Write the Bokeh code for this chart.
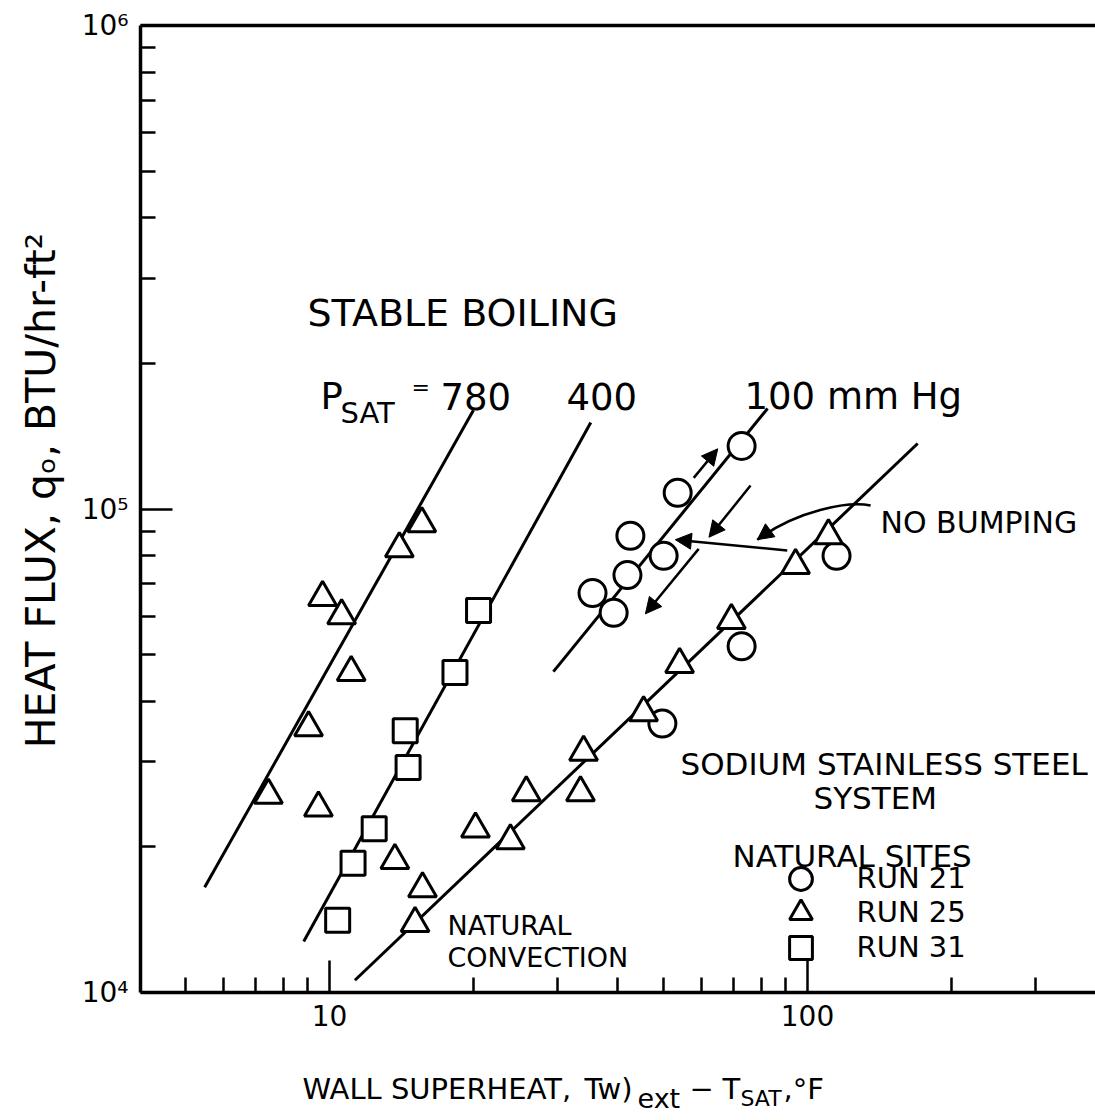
import math
from bokeh.plotting import figure
from bokeh.models import (LogAxis, FixedTicker, Label, Arrow, NormalHead,
                          Legend, LegendItem)
from bokeh.embed import file_html
from bokeh.resources import INLINE

FONT = "DejaVu Sans"

# ---------------- data ----------------
# wall superheat (deg F) and heat flux (BTU/hr-ft2)
run21_dT = [72.8, 53.5, 42.6, 50.0, 42.0, 35.5, 39.3, 115.0, 72.8, 49.7]
run21_q = [1.35e5, 1.08e5, 8.8e4, 8.0e4, 7.3e4, 6.7e4, 6.1e4, 8.0e4, 5.2e4, 3.6e4]

run25_dT = [15.6, 14.0, 9.67, 10.6, 11.1, 9.04, 7.45, 9.48, 13.7, 15.65, 15.1,
            20.2, 23.9, 25.8, 34.0, 33.5, 45.4, 54.0, 69.3, 94.4, 110.6]
run25_q = [9.33e4, 8.28e4, 6.56e4, 6.02e4, 4.59e4, 3.53e4, 2.56e4, 2.41e4, 1.875e4,
           1.64e4, 1.389e4, 2.18e4, 2.06e4, 2.59e4, 3.14e4, 2.59e4, 3.79e4, 4.77e4,
           5.88e4, 7.64e4, 8.81e4]

run31_dT = [20.5, 18.3, 14.4, 14.6, 12.4, 11.2, 10.4]
run31_q = [6.17e4, 4.59e4, 3.48e4, 2.92e4, 2.18e4, 1.85e4, 1.41e4]

# correlation lines (end points)
p780_dT = [5.48, 20.0]
p780_q = [1.65e4, 1.60e5]
p400_dT = [8.83, 35.2]
p400_q = [1.275e4, 1.51e5]
p100_dT = [29.4, 82.5]
p100_q = [4.61e4, 1.614e5]
natconv_dT = [11.3, 170.0]
natconv_q = [1.06e4, 1.366e5]

# arrows: (x_start, y_start, x_end, y_end)
arrows = [
    (57.8, 1.160e5, 64.9, 1.332e5),
    (76.0, 1.118e5, 62.2, 8.74e4),
    (59.2, 8.27e4, 45.8, 6.07e4),
    (90.7, 8.21e4, 52.9, 8.64e4),
]
# curved arrow from "NO BUMPING": start, control 0, control 1, end
curve = [(135.5, 1.017e5), (121.1, 1.038e5), (95.2, 9.93e4), (78.5, 8.64e4)]

x_major = [10, 100]
x_minor = [5, 6, 7, 8, 9, 20, 30, 40, 50, 60, 70, 80, 90, 200, 300]
y_major = [1e4, 1e5, 1e6]
y_minor = [2e4, 3e4, 4e4, 5e4, 6e4, 7e4, 8e4, 9e4,
           2e5, 3e5, 4e5, 5e5, 6e5, 7e5, 8e5, 9e5]
x_tick_labels = {10.0: "10", 100.0: "100"}
y_tick_labels = {10000.0: "10\u2074", 100000.0: "10\u2075", 1000000.0: "10\u2076"}

# ---------------- page geometry ----------------
W, H = 1095, 1120
X_LO = 4.023                 # left end of the x axis
PX_DEC_X, PX_DEC_Y = 478.0, 483.5
AX_L, AX_B = 140, 992        # pixel position of the axes corner


def ax(sx):
    return 10 ** (math.log10(X_LO) + (sx - AX_L) / PX_DEC_X)


def ay(sy):
    return 10 ** (4 + (AX_B - sy) / PX_DEC_Y)


X_HI = ax(W)
Y_LO, Y_HI = 1e4, 1e6

p = figure(width=W, height=H, x_axis_type="log", y_axis_type="log",
           x_range=(ax(0), ax(W)), y_range=(ay(H), ay(0)),
           output_backend="svg", toolbar_location=None,
           min_border_left=0, min_border_right=0, min_border_top=0,
           min_border_bottom=0)
p.outline_line_color = None
p.grid.visible = False
p.background_fill_color = "white"
p.border_fill_color = "white"

for axis, major, minor, labels in ((p.xaxis[0], x_major, x_minor, x_tick_labels),
                                   (p.yaxis[0], y_major, y_minor, y_tick_labels)):
    axis.ticker = FixedTicker(ticks=major, minor_ticks=minor)
    axis.major_label_overrides = labels
    axis.axis_line_width = 3.5
    axis.axis_line_color = "black"
    axis.major_tick_in = 32
    axis.major_tick_out = 0
    axis.minor_tick_in = 15
    axis.minor_tick_out = 0
    axis.major_tick_line_width = 2.5
    axis.minor_tick_line_width = 2.5
    axis.major_tick_line_color = "black"
    axis.minor_tick_line_color = "black"
    axis.major_label_text_font = FONT
    axis.major_label_text_font_size = "28px"
    axis.major_label_text_color = "black"

p.xaxis[0].fixed_location = Y_LO
p.xaxis[0].bounds = (X_LO, X_HI)
p.xaxis[0].major_label_standoff = 12
p.yaxis[0].fixed_location = X_LO
p.yaxis[0].bounds = (Y_LO, Y_HI)
p.yaxis[0].major_label_standoff = 12

top = LogAxis(ticker=FixedTicker(ticks=[]), axis_line_width=3.5,
              fixed_location=Y_HI, bounds=(X_LO, X_HI),
              major_tick_in=0, major_tick_out=0, minor_tick_in=0, minor_tick_out=0,
              major_label_text_font_size="0px")
p.add_layout(top, "above")

# lines
for xs, ys in ((p780_dT, p780_q), (p400_dT, p400_q), (p100_dT, p100_q),
               (natconv_dT, natconv_q)):
    p.line(xs, ys, line_width=3, line_color="black")

# markers
mk = dict(fill_color="white", line_color="black", line_width=3)
r21 = p.scatter(run21_dT, run21_q, marker="circle", size=27, **mk)
r25 = p.scatter(run25_dT, run25_q, marker="triangle", size=28, **mk)
r31 = p.scatter(run31_dT, run31_q, marker="square", size=24, **mk)

# arrows
for xs, ys, xe, ye in arrows:
    p.add_layout(Arrow(end=NormalHead(size=16, fill_color="black", line_color="black"),
                       x_start=xs, y_start=ys, x_end=xe, y_end=ye,
                       line_width=2.5, line_color="black"))
(c0x, c0y), (c1x, c1y), (c2x, c2y), (c3x, c3y) = curve
p.bezier(x0=[c0x], y0=[c0y], x1=[c3x], y1=[c3y], cx0=[c1x], cy0=[c1y],
         cx1=[c2x], cy1=[c2y], line_width=2.5, line_color="black")
p.add_layout(Arrow(end=NormalHead(size=16, fill_color="black", line_color="black"),
                   x_start=c2x, y_start=c2y, x_end=c3x, y_end=c3y,
                   line_alpha=0))

# legend: one row per run (rows 35 px apart)
GLYPH = 57
for label, rend, cy in (("RUN 21", r21, 878), ("RUN 25", r25, 912), ("RUN 31", r31, 947)):
    lg = Legend(items=[LegendItem(label=label, renderers=[rend])],
                location=(800 - GLYPH / 2, H - (cy + GLYPH / 2)),
                glyph_width=GLYPH, glyph_height=GLYPH,
                padding=0, margin=0, label_standoff=28,
                label_text_font=FONT, label_text_font_size="29px",
                label_text_color="black",
                border_line_color=None, background_fill_alpha=0)
    p.add_layout(lg)

# texts: (text, left px, baseline px, size px)
texts = [
    ("STABLE BOILING", 307, 312, 38),
    ("P", 320, 396, 37),
    ("SAT", 340, 412, 29),
    ("=", 411, 387, 22),
    ("780", 440, 396, 37),
    ("400", 566, 396, 37),
    ("100 mm Hg", 744, 396, 37),
    ("NO BUMPING", 880, 522, 30),
    ("NATURAL", 447, 925, 27),
    ("CONVECTION", 447, 957, 27),
    ("SODIUM STAINLESS STEEL", 680, 763, 31),
    ("SYSTEM", 813, 797, 31),
    ("NATURAL SITES", 732, 855, 31),
    # x axis title, built from pieces so that the subscripts sit lower
    ("WALL SUPERHEAT,", 302, 1088, 29),
    ("Tw)", 584, 1088, 29),
    ("ext", 637, 1098, 27),
    ("\u2212", 689, 1088, 29),
    ("T", 722, 1088, 29),
    ("SAT", 740, 1098, 22),
    (",\u00b0F", 783, 1088, 29),
]
for t, sx, sy, fs in texts:
    p.add_layout(Label(x=ax(sx), y=ay(sy), text=t, text_font=FONT,
                       text_font_size=f"{fs}px", text_color="black",
                       text_align="left", text_baseline="alphabetic"))

# y axis title (rotated)
p.add_layout(Label(x=ax(40), y=ay(490), text="HEAT FLUX, q\u2092, BTU/hr-ft\u00b2",
                   angle=math.pi / 2, text_font=FONT, text_font_size="41px",
                   text_color="black", text_align="center", text_baseline="middle"))

open("out.html", "w").write(file_html(p, INLINE))
